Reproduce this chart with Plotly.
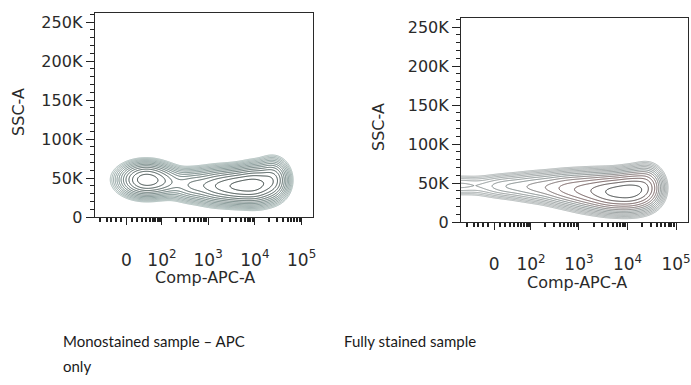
import numpy as np
import plotly.graph_objects as go

W, H = 691, 385

# ---------------- data ----------------
# Biexponential-like x scale (asinh with linear width C)
C_LIN = 36.0
X_RAW_MIN, X_RAW_MAX = -83, 176000
Y_MAX = 262144

x_major_vals = [0, 1e2, 1e3, 1e4, 1e5]
x_major_text = ["0", "10<sup>2</sup>", "10<sup>3</sup>", "10<sup>4</sup>", "10<sup>5</sup>"]
x_minor_vals = [-60, -40, -30, -20, -10, 10, 20, 30, 40, 50, 60, 70, 80, 90,
                200, 300, 400, 500, 600, 700, 800, 900,
                2000, 3000, 4000, 5000, 6000, 7000, 8000, 9000,
                20000, 30000, 40000, 50000, 60000, 70000, 80000, 90000]
y_major_vals = [0, 50000, 100000, 150000, 200000, 250000]
y_major_text = ["0", "50K", "100K", "150K", "200K", "250K"]
y_minor_vals = [v for v in range(0, 260001, 10000) if v % 50000 != 0]

# Population (density) components: x centre (raw), SSC centre, spread in asinh units, SSC spread, weight
mono_cx = [40, 130, 450, 1500, 4500, 11000, 24000]
mono_cy = [48000, 45000, 41000, 40000, 40000, 42000, 48000]
mono_su = [0.62, 0.5, 0.55, 0.6, 0.6, 0.5, 0.38]
mono_sy = [10000, 9000, 9500, 10500, 10500, 11500, 12000]
mono_w = [1.0, 0.25, 0.35, 0.6, 1.0, 0.95, 0.55]

full_cx = [-100, 20, 150, 600, 2000, 5500, 13000, 25000]
full_cy = [47000, 46000, 45000, 43000, 40000, 38000, 40000, 45000]
full_su = [0.9, 0.8, 0.8, 0.7, 0.7, 0.6, 0.5, 0.38]
full_sy = [7000, 8000, 9500, 10500, 11500, 11500, 12000, 12500]
full_w = [0.08, 0.12, 0.2, 0.35, 0.6, 0.95, 1.0, 0.5]

caption_left_1 = "Monostained sample – APC"
caption_left_2 = "only"
caption_right = "Fully stained sample"


def tr(v):
    return np.arcsinh(np.asarray(v, dtype=float) / C_LIN)


u_min, u_max = float(tr(X_RAW_MIN)), float(tr(X_RAW_MAX))
u_grid = np.linspace(u_min, u_max, 420)
y_grid = np.linspace(0, Y_MAX, 320)
UU, YY = np.meshgrid(u_grid, y_grid)


def log_density(cx, cy, su, sy, w):
    Z = np.zeros_like(UU)
    for a, b, s1, s2, ww in zip(cx, cy, su, sy, w):
        Z += ww * np.exp(-0.5 * (((UU - tr(a)) / s1) ** 2 + ((YY - b) / s2) ** 2))
    Z = Z / Z.max()
    return np.log10(Z + 1e-6)


z_mono = log_density(mono_cx, mono_cy, mono_su, mono_sy, mono_w)
z_full = log_density(full_cx, full_cy, full_su, full_sy, full_w)

fig = go.Figure()

cs_mono = [[0, "#a3b5b3"], [0.45, "#657d7b"], [1, "#253230"]]
cs_full = [[0, "#a9b0b0"], [0.5, "#778080"], [0.8, "#6e5050"], [1, "#333838"]]

contour_opts = dict(start=-1.9, end=-0.1, size=0.15, coloring="lines")

fig.add_trace(go.Contour(x=u_grid, y=y_grid, z=z_mono, colorscale=cs_mono,
                         contours=contour_opts, line=dict(width=1, smoothing=0.6),
                         showscale=False, xaxis="x", yaxis="y", hoverinfo="skip"))
fig.add_trace(go.Contour(x=u_grid, y=y_grid, z=z_full, colorscale=cs_full,
                         contours=contour_opts, line=dict(width=1, smoothing=0.6),
                         showscale=False, xaxis="x2", yaxis="y2", hoverinfo="skip"))

FONT = "DejaVu Sans, Arial, sans-serif"
tick_font = dict(family=FONT, size=16, color="#2a2a2a")


def xaxis_cfg(domain):
    return dict(domain=domain, range=[u_min, u_max], showgrid=False, zeroline=False,
                showline=True, linecolor="#2a2a2a", linewidth=1, mirror=True,
                ticks="outside", ticklen=7, tickwidth=1, tickcolor="#222",
                tickmode="array", tickvals=list(tr(x_major_vals)), ticktext=x_major_text,
                tickfont=dict(family=FONT, size=17, color="#2a2a2a"),
                ticklabelstandoff=20,
                minor=dict(tickmode="array", tickvals=list(tr(x_minor_vals)),
                           ticks="outside", ticklen=4, tickwidth=1.5, tickcolor="#222"),
                fixedrange=True)


def yaxis_cfg(domain, anchor):
    return dict(domain=domain, range=[0, Y_MAX], anchor=anchor, showgrid=False, zeroline=False,
                showline=True, linecolor="#2a2a2a", linewidth=1, mirror=True,
                ticks="outside", ticklen=8, tickwidth=1, tickcolor="#222",
                tickmode="array", tickvals=y_major_vals, ticktext=y_major_text,
                tickfont=tick_font,
                minor=dict(tickmode="array", tickvals=y_minor_vals,
                           ticks="outside", ticklen=4, tickwidth=1, tickcolor="#222"),
                fixedrange=True)


def px_x(p):
    return p / W


def px_y(p):
    return 1 - p / H


fig.update_layout(
    width=W, height=H, margin=dict(l=0, r=0, t=0, b=0),
    paper_bgcolor="white", plot_bgcolor="white", showlegend=False,
    xaxis=xaxis_cfg([px_x(95), px_x(314.5)]) | dict(anchor="y"),
    yaxis=yaxis_cfg([px_y(223), px_y(13)], "x"),
    xaxis2=xaxis_cfg([px_x(463), 1.0]) | dict(anchor="y2"),
    yaxis2=yaxis_cfg([px_y(228), px_y(18)], "x2"),
)

title_font = dict(family=FONT, size=16, color="#2a2a2a")
cap_font = dict(family="Lato, sans-serif", size=15, color="#1a1a1a")

annots = [
    dict(text="SSC-A", x=px_x(18), y=px_y(115), textangle=-90, font=title_font),
    dict(text="SSC-A", x=px_x(380), y=px_y(130), textangle=-90, font=title_font),
    dict(text="Comp-APC-A", x=px_x(206), y=px_y(285), font=title_font),
    dict(text="Comp-APC-A", x=px_x(580), y=px_y(290), font=title_font),
    dict(text=caption_left_1, x=px_x(61), y=px_y(350), xanchor="left", font=cap_font),
    dict(text=caption_left_2, x=px_x(61), y=px_y(376), xanchor="left", font=cap_font),
    dict(text=caption_right, x=px_x(343), y=px_y(350), xanchor="left", font=cap_font),
]
for a in annots:
    a.setdefault("xanchor", "center")
    fig.add_annotation(xref="paper", yref="paper", showarrow=False, yanchor="middle", **a)

fig.write_html("out.html", config={"displayModeBar": False},
               post_script="document.body.style.margin='0';document.body.style.overflow='hidden';")
